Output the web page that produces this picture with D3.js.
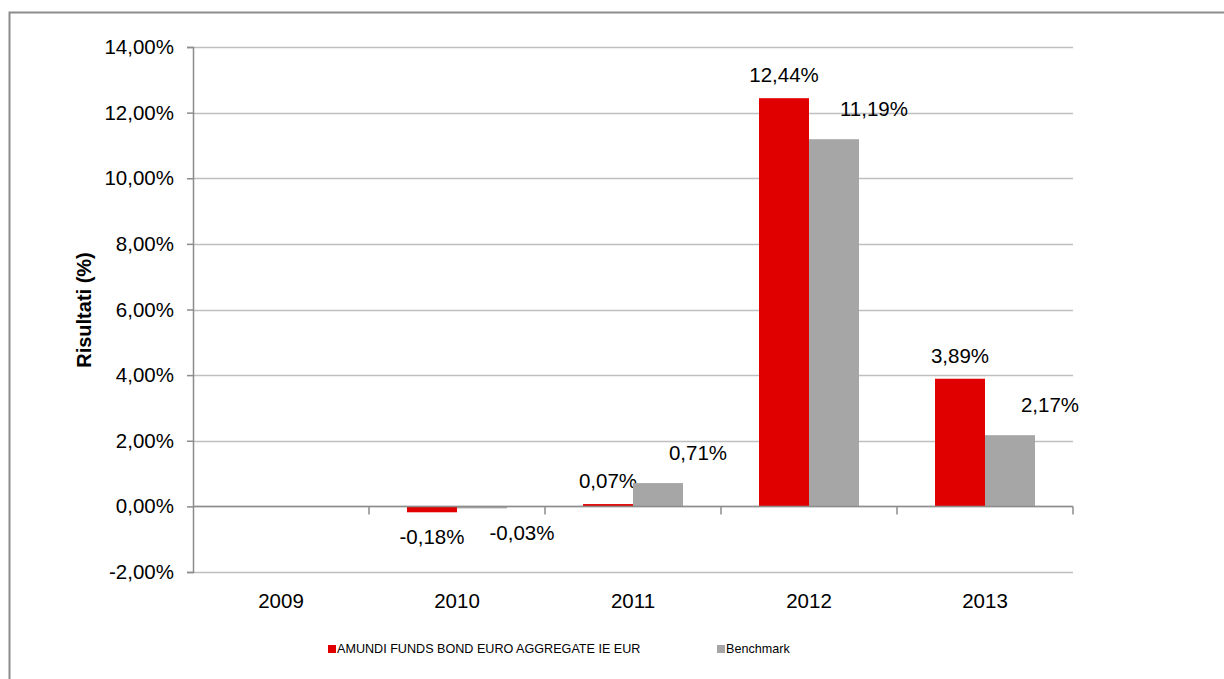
<!DOCTYPE html>
<html>
<head>
<meta charset="utf-8">
<script src="https://cdn.jsdelivr.net/npm/d3@7"></script>
<style>
  body { margin: 0; background: #fff; }
  text { font-family: "Liberation Sans", Arial, sans-serif; fill: #000; }
</style>
</head>
<body>
<div id="chart"></div>
<script>
var years = ["2009", "2010", "2011", "2012", "2013"];
var fundValues = [null, -0.18, 0.07, 12.44, 3.89];
var benchValues = [null, -0.03, 0.71, 11.19, 2.17];
var seriesNames = ["AMUNDI FUNDS BOND EURO AGGREGATE IE EUR", "Benchmark"];
var seriesColors = ["#e00000", "#a6a6a6"];
var yTicks = [-2, 0, 2, 4, 6, 8, 10, 12, 14];

var W = 1224, H = 679;
var margin = { top: 47, right: 151, bottom: 107, left: 193 };
var width = W - margin.left - margin.right,
  height = H - margin.top - margin.bottom;

var svg = d3.select("#chart").append("svg")
  .attr("width", W).attr("height", H);

// outer frame
svg.append("rect")
  .attr("x", 9.5).attr("y", 12.5)
  .attr("width", W).attr("height", H)
  .attr("fill", "none").attr("stroke", "#8c8c8c").attr("stroke-width", 2);

var g = svg.append("g")
  .attr("transform", "translate(" + margin.left + "," + margin.top + ")");

var x0 = d3.scaleBand().domain(years).range([0, width]).padding(0);
var x1 = d3.scaleBand().domain([0, 1]).range([0, x0.bandwidth()])
  .paddingInner(0).paddingOuter(0.76);
var y = d3.scaleLinear().domain([-2, 14]).range([height, 0]);

function fmt(v) {
  return v.toFixed(2).replace(".", ",") + "%";
}

// gridlines
g.append("g").selectAll("line").data(yTicks).enter().append("line")
  .attr("x1", 0).attr("x2", width)
  .attr("y1", function (d) { return Math.round(y(d)) + 0.5; })
  .attr("y2", function (d) { return Math.round(y(d)) + 0.5; })
  .attr("stroke", "#bfbfbf").attr("stroke-width", 1.5);

// y axis
var yAxis = g.append("g")
  .call(d3.axisLeft(y).tickValues(yTicks).tickSize(6).tickPadding(13)
    .tickFormat(function (d) { return fmt(d); }));
yAxis.select(".domain").attr("stroke", "#8c8c8c").attr("stroke-width", 1.5);
yAxis.selectAll(".tick line").attr("stroke", "#8c8c8c").attr("stroke-width", 1.5);
yAxis.selectAll("text").attr("font-size", 20.5).style("font-family", "Liberation Sans, Arial, sans-serif");

// bars
var series = [fundValues, benchValues];
series.forEach(function (vals, s) {
  var data = years.map(function (yr, i) { return { year: yr, v: vals[i] }; })
    .filter(function (d) { return d.v !== null; });
  g.append("g").selectAll("rect").data(data).enter().append("rect")
    .attr("x", function (d) { return x0(d.year) + x1(s); })
    .attr("width", x1.bandwidth())
    .attr("y", function (d) { return y(Math.max(0, d.v)); })
    .attr("height", function (d) { return Math.max(2, Math.abs(y(d.v) - y(0))); })
    .attr("fill", seriesColors[s]);

  g.append("g").selectAll("text").data(data).enter().append("text")
    .attr("x", function (d) {
      return x0(d.year) + x1(s) + x1.bandwidth() / 2 + (s === 1 ? 40 : 0);
    })
    .attr("y", function (d) {
      return d.v >= 0 ? y(d.v) - (s === 1 ? 30 : 23) : y(d.v) + 25;
    })
    .attr("dy", "0.35em")
    .attr("text-anchor", "middle")
    .attr("font-size", 20.5)
    .text(function (d) { return fmt(d.v); });
});

// x axis at zero
var xAxis = g.append("g")
  .attr("transform", "translate(0," + y(0) + ")");
xAxis.append("line").attr("x1", 0).attr("x2", width)
  .attr("stroke", "#8c8c8c").attr("stroke-width", 1.5);
xAxis.selectAll(".tk").data(years).enter().append("line")
  .filter(function (d, i) { return i > 0 || true; })
  .attr("x1", function (d) { return x0(d) + x0.bandwidth(); })
  .attr("x2", function (d) { return x0(d) + x0.bandwidth(); })
  .attr("y1", 0).attr("y2", 8)
  .attr("stroke", "#8c8c8c").attr("stroke-width", 1.5);

// category labels at bottom
g.append("g").selectAll("text").data(years).enter().append("text")
  .attr("x", function (d) { return x0(d) + x0.bandwidth() / 2; })
  .attr("y", height + 29)
  .attr("dy", "0.35em")
  .attr("text-anchor", "middle")
  .attr("font-size", 20.5)
  .text(function (d) { return d; });

// y title
svg.append("text")
  .attr("transform", "translate(84,310) rotate(-90)")
  .attr("text-anchor", "middle")
  .attr("dy", "0.35em")
  .attr("font-size", 20)
  .attr("font-weight", "bold")
  .text("Risultati (%)");

// legend
var legendX = [328, 717];
var legend = svg.append("g");
seriesNames.forEach(function (name, i) {
  legend.append("rect")
    .attr("x", legendX[i]).attr("y", 645)
    .attr("width", 8).attr("height", 8)
    .attr("fill", seriesColors[i]);
  legend.append("text")
    .attr("x", legendX[i] + 9).attr("y", 649)
    .attr("dy", "0.35em")
    .attr("font-size", 12.6)
    .text(name);
});
</script>
</body>
</html>
